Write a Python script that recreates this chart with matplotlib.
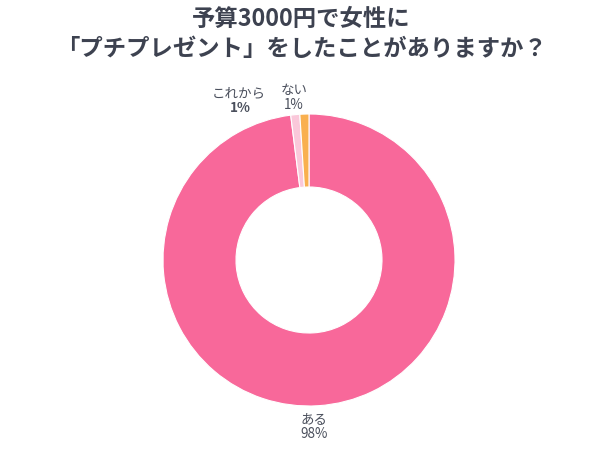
import matplotlib
matplotlib.use("Agg")
import matplotlib.pyplot as plt

plt.rcParams['font.family'] = ['Noto Sans CJK JP', 'DejaVu Sans']

categories = ["ある", "これから", "ない"]
values = [98, 1, 1]
pct_labels = ["98%", "1%", "1%"]
colors = ["#F8689A", "#FAC8DA", "#F9B04F"]
title = "予算3000円で女性に\n「プチプレゼント」をしたことがありますか？"

W, H = 602, 451
fig = plt.figure(figsize=(W / 100, H / 100), dpi=100)
cx, cy, r = 309, 260, 146
ax = fig.add_axes([(cx - r) / W, (H - cy - r) / H, 2 * r / W, 2 * r / H])
ax.pie(values, colors=colors, startangle=90, counterclock=False, radius=1,
       wedgeprops=dict(width=0.5, edgecolor="white", linewidth=0.8))
ax.set_xlim(-1, 1)
ax.set_ylim(-1, 1)
ax.set_aspect("equal")
ax.axis("off")

def d(px, py):
    return (px - cx) / r, (cy - py) / r

txtc = "#4a4f5c"
fs = 9.7
# ある
x, y = d(314, 419)
ax.text(x, y, categories[0], ha="center", va="center", fontsize=fs, color=txtc, clip_on=False)
x, y = d(314, 434)
ax.text(x, y, pct_labels[0], ha="center", va="center", fontsize=fs, color=txtc, clip_on=False)
# これから
x, y = d(239, 93)
ax.text(x, y, categories[1], ha="center", va="center", fontsize=fs, color=txtc, clip_on=False)
x, y = d(240, 108)
ax.text(x, y, pct_labels[1], ha="center", va="center", fontsize=fs, color=txtc,
        fontweight="bold", clip_on=False)
# ない
x, y = d(294, 90)
ax.text(x, y, categories[2], ha="center", va="center", fontsize=fs, color=txtc, clip_on=False)
x, y = d(294, 105)
ax.text(x, y, pct_labels[2], ha="center", va="center", fontsize=fs, color=txtc, clip_on=False)

fig.text(0.5, 1 - 34 / H, title, ha="center", va="center", fontsize=16.8,
         fontweight="bold", color="#3d4250", linespacing=1.35)

fig.savefig("out.png", dpi=100, facecolor="white")
